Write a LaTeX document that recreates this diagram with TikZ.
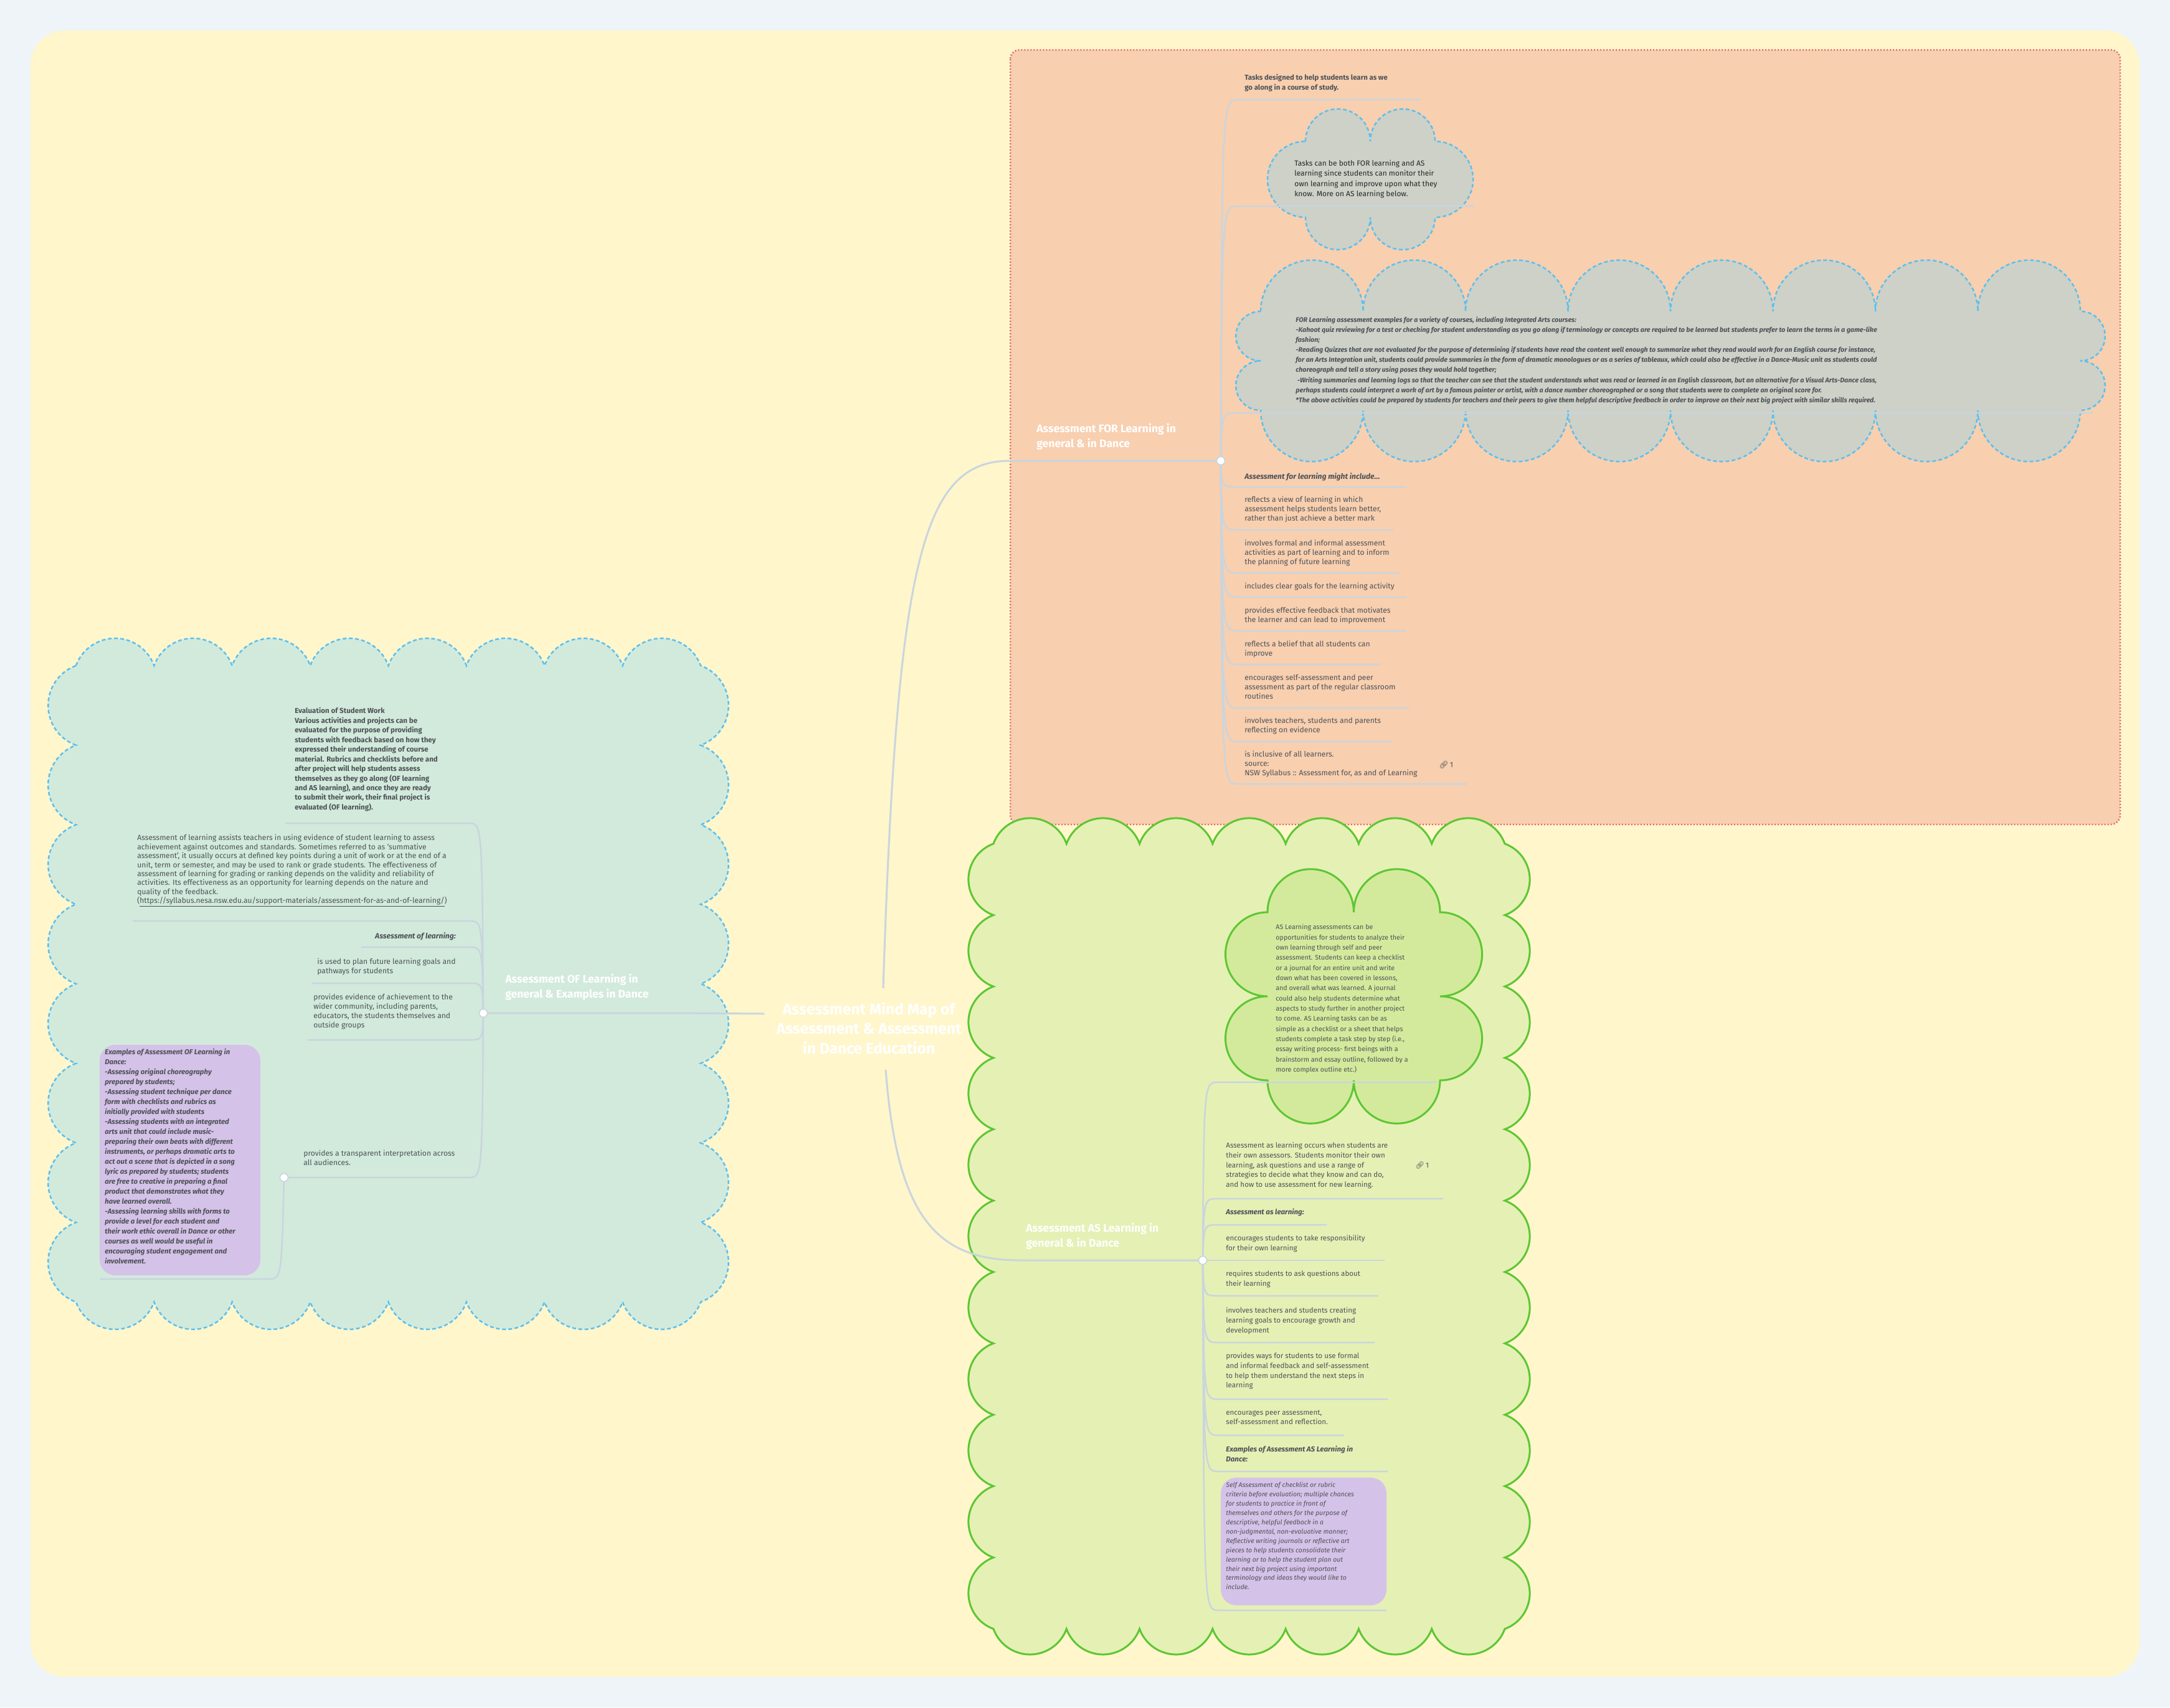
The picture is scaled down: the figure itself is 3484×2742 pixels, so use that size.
\documentclass[tikz,border=0pt]{standalone}
\usepackage{fontspec}
\setmainfont{Fira Sans}
\newfontfamily\emo{Noto Emoji}
\definecolor{outerbg}{HTML}{EEF4F7}
\definecolor{yel}{HTML}{FFF6CC}
\definecolor{orng}{HTML}{F8CFAF}
\definecolor{redb}{HTML}{E06A6A}
\definecolor{gcloud}{HTML}{CDD1C8}
\definecolor{bluel}{HTML}{5BC0F0}
\definecolor{teal}{HTML}{D2EADC}
\definecolor{grn}{HTML}{E5F0B5}
\definecolor{grnb}{HTML}{5CC732}
\definecolor{grnin}{HTML}{D3EA9C}
\definecolor{conc}{HTML}{C9D5DE}
\definecolor{tc}{HTML}{4D5257}
\definecolor{purp}{HTML}{D5C2E8}
\tikzset{
 conn/.style={draw=conc,line width=0.05cm},
 txt/.style={anchor=north west,inner sep=0,align=left,text=tc},
 fl/.style={txt,font=\fontsize{6.9}{8.5}\selectfont},
 asl/.style={txt,font=\fontsize{6.6}{9}\selectfont},
 dashb/.style={draw=bluel,line width=0.05cm,dash pattern=on 0.12cm off 0.08cm},
 grnline/.style={draw=grnb,line width=0.06cm},
 jdot/.style={circle,fill=white,draw=conc,line width=0.03cm,minimum size=0.26cm,inner sep=0},
 brlab/.style={anchor=north west,inner sep=0,align=left,text=white,font=\fontsize{10}{13.6}\selectfont\bfseries},
 pbox/.style={fill=purp,rounded corners=0.5cm},
}
% scalloped rectangle: x0 y0 x1 y1 nx ny style angle (pixel coords, y down)
\newcommand{\scallop}[8]{%
 \pgfmathsetmacro\ha{#8/2}%
 \pgfmathsetmacro\rx{0.02*(#3-#1)/#5/(2*sin(\ha))}%
 \pgfmathsetmacro\ry{0.02*(#4-#2)/#6/(2*sin(\ha))}%
 \path[#7] (#1,#2)
  \foreach \i in {1,...,#5}{ arc[start angle=90+\ha,end angle=90-\ha,radius=\rx cm] }
  \foreach \i in {1,...,#6}{ arc[start angle=\ha,end angle=-\ha,radius=\ry cm] }
  \foreach \i in {1,...,#5}{ arc[start angle=-90+\ha,end angle=-90-\ha,radius=\rx cm] }
  \foreach \i in {1,...,#6}{ arc[start angle=-180+\ha,end angle=-180-\ha,radius=\ry cm] }
  -- cycle;}
\begin{document}
\begin{tikzpicture}[x=0.02cm,y=-0.02cm]
\useasboundingbox (0,0) rectangle (3484,2742);
\fill[outerbg] (0,0) rectangle (3484,2742);
\fill[yel,rounded corners=1.1cm] (49,49) rectangle (3435,2693);
% regions
\draw[fill=orng,draw=redb,line width=0.05cm,dash pattern=on 0.04cm off 0.06cm,rounded corners=0.3cm] (1622,80) rectangle (3404,1324);
\scallop{122}{1069}{1125}{2091}{8}{8}{fill=teal,dashb}{140}
\scallop{1595}{1355}{2416}{2616}{7}{11}{fill=grn,grnline}{140}
\scallop{2035}{1465}{2312}{1735}{2}{2}{fill=grnin,grnline}{180}
\scallop{2096}{227}{2304}{349}{2}{1}{fill=gcloud,dashb}{180}
\scallop{2024}{500}{3340}{659}{8}{2}{fill=gcloud,dashb}{180}

% center and branches
\node[align=center,text=white,font=\fontsize{14}{18}\selectfont\bfseries,inner sep=0] (ctr) at (1395,1651) {Assessment Mind Map of\\Assessment \& Assessment\\in Dance Education};
\coordinate (cT) at (1418,1587);
\coordinate (cB) at (1422,1718);
\coordinate (cL) at (1227,1628);
\node[jdot] (dFOR) at (1960,740) {};
\node[jdot] (dOF) at (776,1627) {};
\node[jdot] (dAS) at (1931,2024) {};
\node[jdot] (dOF2) at (456,1891) {};
\coordinate (uFOR) at (1622,740);
\coordinate (uAS) at (1638,2024);
\coordinate (uOF) at (1084,1627);
\draw[conn,line width=0.06cm] (cT) .. controls (1440,900) and (1480,740) .. (uFOR) -- (dFOR);
\draw[conn,line width=0.06cm] (cB) .. controls (1440,1950) and (1500,2024) .. (uAS) -- (dAS);
\draw[conn,line width=0.06cm] (cL) -- (uOF) -- (dOF);

% FOR children connectors
\foreach \y/\e in {160/2280,331/2367,663/3360,782/2257,851/2237,920/2247,959/2257,1013/2257,1067/2217,1137/2262,1191/2236,1259/2355}{
 \coordinate (fs) at (1988,\y); \coordinate (fe) at (\e,\y);
 \draw[conn] (dFOR) .. controls (1962,\y) .. (fs) -- (fe);}
% OF children connectors
\foreach \y/\e in {1322/458,1479/213,1521/580,1579/501,1670/494,1891/456}{
 \coordinate (os) at (752,\y); \coordinate (oe) at (\e,\y);
 \draw[conn] (dOF) .. controls (774,\y) .. (os) -- (oe);}
\coordinate (p1s) at (430,2054); \coordinate (p1e) at (160,2054);
\draw[conn] (dOF2) .. controls (452,2054) .. (p1s) -- (p1e);
% AS children connectors
\foreach \y/\e in {1738/2307,1925/2317,1967/2130,2024/2223,2081/2213,2156/2207,2247/2228,2305/2158,2363/2228,2586/2226}{
 \coordinate (as) at (1956,\y); \coordinate (ae) at (\e,\y);
 \draw[conn] (dAS) .. controls (1933,\y) .. (as) -- (ae);}
\node[jdot] at (dFOR) {};
\node[jdot] at (dOF) {};
\node[jdot] at (dAS) {};
\node[jdot] at (dOF2) {};

% branch labels
\node[brlab] (lFOR) at (1664,680) {Assessment FOR Learning in\\general \& in Dance};
\node[brlab] (lOF) at (811,1564) {Assessment OF Learning in\\general \& Examples in Dance};
\node[brlab] (lAS) at (1647,1964) {Assessment AS Learning in\\general \& in Dance};

% FOR texts
\node[txt,font=\fontsize{6.5}{9}\selectfont\bfseries] (f1) at (1998,119) {Tasks designed to help students learn as we\\go along in a course of study.};
\node[txt,text=black!85,font=\fontsize{6.8}{9.2}\selectfont] (f2) at (2078,257) {Tasks can be both FOR learning and AS\\learning since students can monitor their\\own learning and improve upon what they\\know. More on AS learning below.};
\node[txt,font=\fontsize{6.1}{9.2}\selectfont\bfseries\itshape] (f3) at (2080,508) {FOR Learning assessment examples for a variety of courses, including Integrated Arts courses:\\
-Kahoot quiz reviewing for a test or checking for student understanding as you go along if terminology or concepts are required to be learned but students prefer to learn the terms in a game-like\\
fashion;\\
-Reading Quizzes that are not evaluated for the purpose of determining if students have read the content well enough to summarize what they read would work for an English course for instance,\\
for an Arts Integration unit, students could provide summaries in the form of dramatic monologues or as a series of tableaux, which could also be effective in a Dance-Music unit as students could\\
choreograph and tell a story using poses they would hold together;\\
\ -Writing summaries and learning logs so that the teacher can see that the student understands what was read or learned in an English classroom, but an alternative for a Visual Arts-Dance class,\\
perhaps students could interpret a work of art by a famous painter or artist, with a dance number choreographed or a song that students were to complete an original score for.\\
*The above activities could be prepared by students for teachers and their peers to give them helpful descriptive feedback in order to improve on their next big project with similar skills required.};
\node[fl,font=\fontsize{6.9}{8.5}\selectfont\bfseries\itshape] (f4) at (1998,759) {Assessment for learning might include...};
\node[fl] (f5) at (1998,797) {reflects a view of learning in which\\assessment helps students learn better,\\rather than just achieve a better mark};
\node[fl] (f6) at (1998,867) {involves formal and informal assessment\\activities as part of learning and to inform\\the planning of future learning};
\node[fl] (f7) at (1998,936) {includes clear goals for the learning activity};
\node[fl] (f8) at (1998,975) {provides effective feedback that motivates\\the learner and can lead to improvement};
\node[fl] (f9) at (1998,1029) {reflects a belief that all students can\\improve};
\node[fl] (f10) at (1998,1083) {encourages self-assessment and peer\\assessment as part of the regular classroom\\routines};
\node[fl] (f11) at (1998,1152) {involves teachers, students and parents\\reflecting on evidence};
\node[fl] (f12) at (1998,1206) {is inclusive of all learners.\\source:\\NSW Syllabus :: Assessment for, as and of Learning};
\node[fl,anchor=west] (lk1) at (2310,1228) {{\emo 🔗}\,1};

% OF texts
\node[txt,font=\fontsize{6.6}{8.8}\selectfont\bfseries] (o1) at (473,1136) {Evaluation of Student Work\\Various activities and projects can be\\evaluated for the purpose of providing\\students with feedback based on how they\\expressed their understanding of course\\material. Rubrics and checklists before and\\after project will help students assess\\themselves as they go along (OF learning\\and AS learning), and once they are ready\\to submit their work, their final project is\\evaluated (OF learning).};
\node[txt,font=\fontsize{6.9}{8.2}\selectfont] (o2) at (220,1340) {Assessment of learning assists teachers in using evidence of student learning to assess\\achievement against outcomes and standards. Sometimes referred to as ‘summative\\assessment’, it usually occurs at defined key points during a unit of work or at the end of a\\unit, term or semester, and may be used to rank or grade students. The effectiveness of\\assessment of learning for grading or ranking depends on the validity and reliability of\\activities. Its effectiveness as an opportunity for learning depends on the nature and\\quality of the feedback.\\(\underline{https://syllabus.nesa.nsw.edu.au/support-materials/assessment-for-as-and-of-learning/})};
\node[txt,anchor=north east,font=\fontsize{6.9}{8.5}\selectfont\bfseries\itshape] (o3) at (732,1497) {Assessment of learning:};
\node[fl] (o4) at (509,1539) {is used to plan future learning goals and\\pathways for students};
\node[fl] (o5) at (503,1596) {provides evidence of achievement to the\\wider community, including parents,\\educators, the students themselves and\\outside groups};
\node[fl] (o6) at (487,1847) {provides a transparent interpretation across\\all audiences.};
\fill[pbox] (160,1678) rectangle (418,2048);
\node[txt,font=\fontsize{6.5}{9.1}\selectfont\bfseries\itshape] (o7) at (168,1684) {Examples of Assessment OF Learning in\\Dance:\\-Assessing original choreography\\prepared by students;\\-Assessing student technique per dance\\form with checklists and rubrics as\\initially provided with students\\-Assessing students with an integrated\\arts unit that could include music-\\preparing their own beats with different\\instruments, or perhaps dramatic arts to\\act out a scene that is depicted in a song\\lyric as prepared by students; students\\are free to creative in preparing a final\\product that demonstrates what they\\have learned overall.\\-Assessing learning skills with forms to\\provide a level for each student and\\their work ethic overall in Dance or other\\courses as well would be useful in\\encouraging student engagement and\\involvement.};

% AS texts
\node[txt,font=\fontsize{6.1}{9.3}\selectfont] (a0) at (2048,1484) {AS Learning assessments can be\\opportunities for students to analyze their\\own learning through self and peer\\assessment. Students can keep a checklist\\or a journal for an entire unit and write\\down what has been covered in lessons,\\and overall what was learned. A journal\\could also help students determine what\\aspects to study further in another project\\to come. AS Learning tasks can be as\\simple as a checklist or a sheet that helps\\students complete a task step by step (i.e.,\\essay writing process- first beings with a\\brainstorm and essay outline, followed by a\\more complex outline etc.)};
\node[asl] (a1) at (1968,1834) {Assessment as learning occurs when students are\\their own assessors. Students monitor their own\\learning, ask questions and use a range of\\strategies to decide what they know and can do,\\and how to use assessment for new learning.};
\node[asl,anchor=west] (lk2) at (2272,1872) {{\emo 🔗}\,1};
\node[asl,font=\fontsize{6.6}{9}\selectfont\bfseries\itshape] (a2) at (1968,1941) {Assessment as learning:};
\node[asl] (a3) at (1968,1983) {encourages students to take responsibility\\for their own learning};
\node[asl] (a4) at (1968,2040) {requires students to ask questions about\\their learning};
\node[asl] (a5) at (1968,2099) {involves teachers and students creating\\learning goals to encourage growth and\\development};
\node[asl] (a6) at (1968,2172) {provides ways for students to use formal\\and informal feedback and self-assessment\\to help them understand the next steps in\\learning};
\node[asl] (a7) at (1968,2264) {encourages peer assessment,\\self-assessment and reflection.};
\node[asl,font=\fontsize{6.6}{9}\selectfont\bfseries\itshape] (a8) at (1968,2322) {Examples of Assessment AS Learning in\\Dance:};
\fill[pbox] (1960,2373) rectangle (2226,2578);
\node[txt,font=\fontsize{6}{8.5}\selectfont\itshape] (a9) at (1968,2380) {Self Assessment of checklist or rubric\\criteria before evaluation; multiple chances\\for students to practice in front of\\themselves and others for the purpose of\\descriptive, helpful feedback in a\\non-judgmental, non-evaluative manner;\\Reflective writing journals or reflective art\\pieces to help students consolidate their\\learning or to help the student plan out\\their next big project using important\\terminology and ideas they would like to\\include.};
\end{tikzpicture}
\end{document}
